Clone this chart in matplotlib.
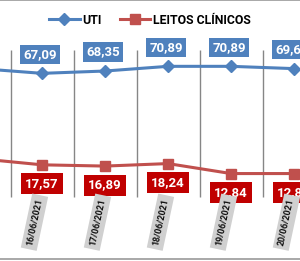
import numpy as np
import matplotlib.pyplot as plt
from matplotlib.lines import Line2D

plt.rcParams['font.family'] = ['Roboto', 'DejaVu Sans']

datas = ['15/06/2021', '16/06/2021', '17/06/2021', '18/06/2021', '19/06/2021', '20/06/2021']
uti = [69.7, 67.09, 68.35, 70.89, 70.89, 69.65]
leitos = [20.9, 17.57, 16.89, 18.24, 12.84, 12.84]

azul = '#4F81BD'
verm = '#C0504D'
verm_box = '#C00000'

fig = plt.figure(figsize=(3.0, 2.61), dpi=100)
ax = fig.add_axes([0, 0, 1, 1])
x = np.arange(len(datas))

ax.set_xlim(0.333, 5.095)
ax.set_ylim(-34.5, 106.8)
ax.axis('off')

# linhas verticais entre categorias
ax.vlines(x[:-1] + 0.5, 0, 79.5, color='#868686', lw=1.0, zorder=1)

ax.plot(x, uti, color=azul, lw=2.2, marker='D', ms=6, zorder=3)
ax.plot(x, leitos, color=verm, lw=2.2, marker='s', ms=7, zorder=3)

for i in range(1, len(datas)):
    ax.annotate(f'{uti[i]:.2f}'.replace('.', ','), (x[i], uti[i]),
                xytext=(-2, 19), textcoords='offset pixels', ha='center', va='center',
                color='white', fontsize=9.5, fontweight='bold',
                bbox=dict(boxstyle='square,pad=0.25', fc=azul, ec='none'))
    ax.annotate(f'{leitos[i]:.2f}'.replace('.', ','), (x[i], leitos[i]),
                xytext=(0, -19), textcoords='offset pixels', ha='center', va='center',
                color='white', fontsize=9.5, fontweight='bold',
                bbox=dict(boxstyle='square,pad=0.3', fc=verm_box, ec='none'))
    ax.text(x[i] - 0.12, -13.5, datas[i], rotation=78, ha='center', va='center',
            fontsize=6.5, color='#111111', fontweight='bold',
            bbox=dict(boxstyle='square,pad=0.4', fc='#d0d0d0', ec='none'))

# bordas
ax.axhline(106.6, color='#999999', lw=1.2)
ax.axhline(-33.5, color='#999999', lw=1.2)

handles = [Line2D([], [], color=azul, lw=2.2, marker='D', ms=6),
           Line2D([], [], color=verm, lw=2.2, marker='s', ms=7)]
ax.legend(handles, ['UTI', 'LEITOS CLÍNICOS'], loc='center', bbox_to_anchor=(0.5, 0.923),
          ncol=2, frameon=False, handlelength=2.5, handletextpad=0.2, columnspacing=1.5,
          prop={'weight': 'bold', 'size': 8.8})

fig.savefig('out.png', dpi=100)
